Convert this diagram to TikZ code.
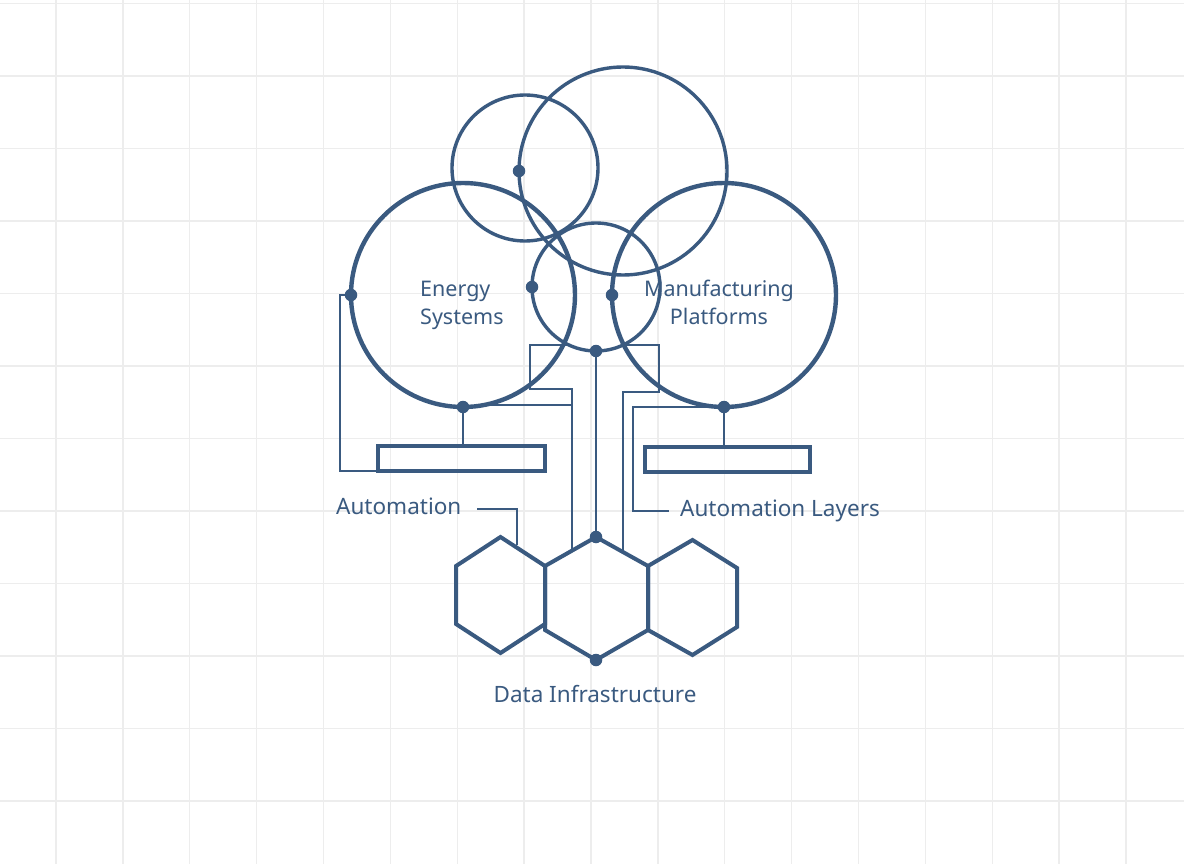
\documentclass[tikz,border=0pt]{standalone}
\usepackage{fontspec}
\setmainfont{Noto Sans}
\definecolor{ink}{HTML}{3A5A80}
\definecolor{gridc}{HTML}{EDEDED}
\begin{document}
\begin{tikzpicture}[x=1pt,y=-1pt,
  bigring/.style={circle, draw=ink, line width=4.4pt, inner sep=0pt, outer sep=0pt},
  smallring/.style={circle, draw=ink, line width=3.4pt, inner sep=0pt, outer sep=0pt},
  bar/.style={rectangle, draw=ink, line width=3.8pt, inner sep=0pt, outer sep=0pt, minimum height=25pt},
  hexline/.style={draw=ink, line width=4pt, line join=miter},
  wire/.style={draw=ink, line width=1.8pt},
  dot/.style={circle, fill=ink, inner sep=0pt, outer sep=0pt, minimum size=12.5pt},
  lbl/.style={text=ink, inner sep=0pt, font=\fontsize{22.5}{27}\selectfont},
  inlbl/.style={text=ink, inner sep=0pt, font=\fontsize{21.5}{28}\selectfont},
]
\fill[white] (0,0) rectangle (1184,864);
\useasboundingbox (0,0) rectangle (1184,864);
% grid
\foreach \i in {0,...,16} \draw[gridc, line width=1.3pt] ({56+66.875*\i},0) -- ({56+66.875*\i},864);
\foreach \j in {0,...,11} \draw[gridc, line width=1.3pt] (0,{3.5+72.5*\j}) -- (1184,{3.5+72.5*\j});

% hexagons
\draw[hexline] (500.5,537) -- (545,566) -- (545,624) -- (500.5,653) -- (456,624) -- (456,566) -- cycle;
\draw[hexline] (596,537) -- (648,566) -- (648,630) -- (596,660) -- (545,630) -- (545,566) -- cycle;
\draw[hexline] (692.5,540) -- (737,568) -- (737,627) -- (692.5,655) -- (648,630) -- (648,566) -- cycle;
\coordinate (hMt) at (596,537);
\coordinate (hMb) at (596,660);
\coordinate (hLe) at (517,545);
\coordinate (hMl) at (572,551);
\coordinate (hMr) at (623,552);

% circles
\node[smallring, minimum size=146pt] (cTS) at (525,168) {};
\node[smallring, minimum size=208pt] (cTL) at (623,171) {};
\node[bigring, minimum size=224pt] (cE) at (463,295) {};
\node[bigring, minimum size=224pt] (cM) at (724,295) {};
\node[smallring, minimum size=128pt] (cC) at (596,287) {};

% bars
\node[bar, minimum width=167pt] (rL) at (461.5,458.5) {};
\node[bar, minimum width=165pt] (rR) at (727.5,459.5) {};

% wire helper coordinates
\coordinate (a1) at (569,345);
\coordinate (a2) at (530,345);
\coordinate (a3) at (530,389);
\coordinate (a4) at (572,389);
\coordinate (b1) at (623,345);
\coordinate (b2) at (659,345);
\coordinate (b3) at (659,392);
\coordinate (b4) at (623,392);
\coordinate (e1) at (484,405);
\coordinate (e2) at (572,405);
\coordinate (w1) at (340,295);
\coordinate (m1) at (633,511);
\coordinate (m2) at (669,511);
\coordinate (l1) at (477,509);
\coordinate (l2) at (517,509);

% dots
\node[dot] (d1) at (cTL.west) {};
\node[dot] (d2) at (cE.west) {};
\node[dot] (d3) at (cC.west) {};
\node[dot] (d4) at (cM.west) {};
\node[dot] (d5) at (cC.south) {};
\node[dot] (d6) at (cE.south) {};
\node[dot] (d7) at (cM.south) {};
\node[dot] (d8) at (hMt) {};
\node[dot] (d9) at (hMb) {};

% wires
\draw[wire] (d6.center) -- (d6 |- rL.north);
\draw[wire] (d7.center) -- (d7 |- rR.north);
\draw[wire] (d2.center) -- (w1) |- (rL.south west);
\draw[wire] (d5.center) -- (d8.center);
\draw[wire] (a1) -- (a2) -- (a3) -- (a4) -- (hMl);
\draw[wire] (b1) -- (b2) -- (b3) -- (b4) -- (hMr);
\draw[wire] (e1) -- (e2);
\draw[wire] (d7.center) -| (m1) -- (m2);
\draw[wire] (l1) -- (l2) -- (hLe);

% labels
\node[inlbl, align=left, anchor=base west] (tE) at (420,324) {Energy\\Systems};
\node[inlbl, align=center, anchor=base] (tM) at (719,324) {Manufacturing\\Platforms};
\node[lbl, anchor=base west] (tA) at (336,514) {Automation};
\node[lbl, anchor=base west] (tAL) at (680,516) {Automation Layers};
\node[lbl, anchor=base] (tD) at (595,702) {Data Infrastructure};
\end{tikzpicture}
\end{document}
